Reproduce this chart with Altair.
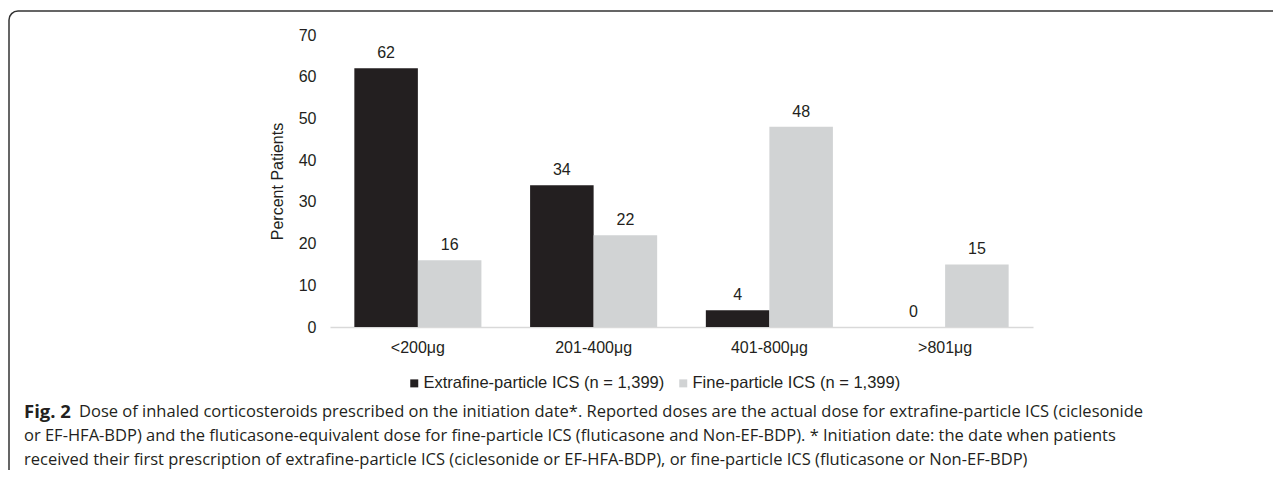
import altair as alt
import pandas as pd

categories = ["<200μg", "201-400μg", "401-800μg", ">801μg"]
series = ["Extrafine-particle ICS (n = 1,399)", "Fine-particle ICS (n = 1,399)"]
extrafine = [62, 34, 4, 0]
fine = [16, 22, 48, 15]
y_ticks = [0, 10, 20, 30, 40, 50, 60, 70]
colors = ["#231f20", "#d1d3d4"]

caption_bold = "Fig. 2"
caption_lines = [
    "Dose of inhaled corticosteroids prescribed on the initiation date*. Reported doses are the actual dose for extrafine-particle ICS (ciclesonide",
    "or EF-HFA-BDP) and the fluticasone-equivalent dose for fine-particle ICS (fluticasone and Non-EF-BDP). * Initiation date: the date when patients",
    "received their first prescription of extrafine-particle ICS (ciclesonide or EF-HFA-BDP), or fine-particle ICS (fluticasone or Non-EF-BDP)",
]

rows = []
for c, a, b in zip(categories, extrafine, fine):
    rows.append({"dose": c, "series": series[0], "value": a})
    rows.append({"dose": c, "series": series[1], "value": b})
df = pd.DataFrame(rows)

FONT = "Liberation Sans"
TXT = "#231f20"
CAP_FONT = "Open Sans"

x_enc = alt.X(
    "dose:N", sort=categories,
    scale=alt.Scale(paddingInner=0.277, paddingOuter=0.1385),
    axis=alt.Axis(title=None, labelAngle=0, ticks=False, grid=False,
                  domainColor="#d9d9d9", domainWidth=1.5, labelPadding=12,
                  labelFontSize=16, labelFont=FONT, labelColor=TXT),
)
xo_enc = alt.XOffset("series:N", sort=series, scale=alt.Scale(paddingInner=0, paddingOuter=0))
y_enc = alt.Y(
    "value:Q", scale=alt.Scale(domain=[0, 70], nice=False),
    axis=alt.Axis(values=y_ticks, domain=False, ticks=False, grid=False,
                  labelPadding=14, labelFontSize=16, labelFont=FONT, labelColor=TXT,
                  title="Percent Patients", titleFontSize=16, titleFont=FONT,
                  titleFontWeight="normal", titleColor=TXT, titlePadding=13),
)

bars = alt.Chart(df).mark_bar().encode(
    x=x_enc, xOffset=xo_enc, y=y_enc,
    color=alt.Color("series:N", scale=alt.Scale(domain=series, range=colors),
                    legend=alt.Legend(orient="none", legendX=76, legendY=340,
                                      direction="horizontal", title=None,
                                      symbolType="square", symbolSize=64,
                                      symbolStrokeWidth=0, labelFontSize=16.5,
                                      labelFont=FONT, labelColor=TXT, labelLimit=0,
                                      labelOffset=1, columnPadding=10, padding=0)),
)

labels = alt.Chart(df).mark_text(dy=-10, baseline="alphabetic", fontSize=16,
                                 font=FONT, color=TXT).encode(
    x=alt.X("dose:N", sort=categories), xOffset=alt.XOffset("series:N", sort=series),
    y="value:Q", text="value:Q",
)

one = pd.DataFrame({"k": [0]})
box = alt.Chart(one).mark_rect(cornerRadius=9, fillOpacity=0, fill="white",
                               stroke="#333333", strokeWidth=1.5).encode(
    x=alt.value(-321), x2=alt.value(1200), y=alt.value(-24), y2=alt.value(700)
)

cap_layers = [
    alt.Chart(one).mark_text(text=caption_bold, fontWeight="bold", fontSize=18.5,
                             font=CAP_FONT, color=TXT, align="left",
                             baseline="middle").encode(x=alt.value(-306), y=alt.value(377))
]
line_x = [-251, -306, -306]
line_y = [377, 401, 425]
for t, lx, ly in zip(caption_lines, line_x, line_y):
    cap_layers.append(
        alt.Chart(one).mark_text(text=t, fontSize=16.5, font=CAP_FONT, color=TXT,
                                 align="left", baseline="middle").encode(
            x=alt.value(lx), y=alt.value(ly))
    )

chart = alt.layer(box, bars, labels, *cap_layers).properties(
    width=703, height=292,
    autosize=alt.AutoSizeParams(type="none"),
    padding={"left": 322, "top": 27, "right": 240, "bottom": 143},
).configure_view(stroke=None)

chart.save("out.html", embed_options={"renderer": "svg", "actions": False})
